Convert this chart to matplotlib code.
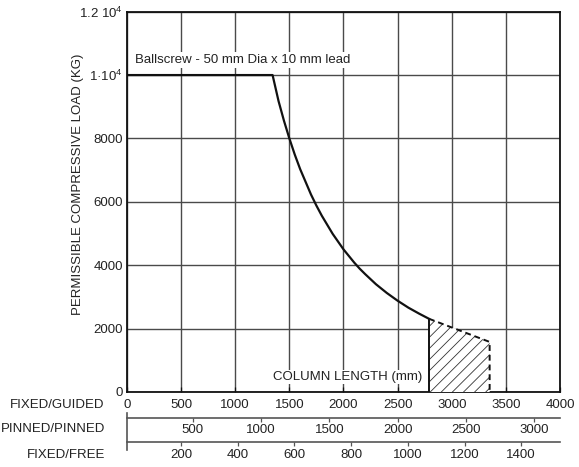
import matplotlib
matplotlib.use("Agg")
import matplotlib.pyplot as plt

plt.rcParams['font.family'] = ['Liberation Sans', 'DejaVu Sans']
plt.rcParams['mathtext.fontset'] = 'custom'
plt.rcParams['mathtext.rm'] = 'Liberation Sans'
plt.rcParams['mathtext.it'] = 'Liberation Sans'
plt.rcParams['font.size'] = 9.5
plt.rcParams['hatch.linewidth'] = 0.6

# Data (x in FIXED/GUIDED column length, mm)
length_mm = [0, 1345, 1400, 1450, 1500, 1550, 1600, 1700, 1750, 1800, 1900, 2000,
             2100, 2150, 2200, 2300, 2400, 2500, 2600, 2700, 2790]
load_kg = [10000, 10000, 9180, 8560, 8000, 7490, 7030, 6230, 5880, 5560, 4990, 4500,
           4080, 3890, 3720, 3400, 3125, 2880, 2660, 2470, 2310]

hatch_x = [2790, 2790, 3350, 3350]
hatch_y = [0, 2310, 1580, 0]

y_ticks = [0, 2000, 4000, 6000, 8000, 10000, 12000]
y_labels = ['0', '2000', '4000', '6000', '8000', r'1·10$^4$', r'1.2 10$^4$']
guided_ticks = [0, 500, 1000, 1500, 2000, 2500, 3000, 3500, 4000]
pinned_ticks = [500, 1000, 1500, 2000, 2500, 3000]
free_ticks = [200, 400, 600, 800, 1000, 1200, 1400]

# conversion of the lower scales to the FIXED/GUIDED scale
PIN_A, PIN_B = 1.2624, -24.0
FREE_A, FREE_B = 2.619, -25.0

fig = plt.figure(figsize=(5.79, 4.67), dpi=100)
ax = fig.add_axes([0.2193, 0.1606, 0.7479, 0.8144])

ax.set_xlim(0, 4000)
ax.set_ylim(0, 12000)
ax.set_xticks(guided_ticks)
ax.set_yticks(y_ticks)
ax.set_yticklabels(y_labels)
ax.grid(True, color='#4a4a4a', lw=1.0)
ax.set_axisbelow(True)
for s in ax.spines.values():
    s.set_color('#111111')
    s.set_linewidth(1.3)
ax.tick_params(axis='x', direction='in', length=3.5, width=0.9, pad=5,
               colors='#111111', labelcolor='#222222')
ax.tick_params(axis='y', length=0, pad=3, labelcolor='#222222')

ax.plot(length_mm, load_kg, color='#111111', lw=1.6, zorder=4)
ax.plot([hatch_x[0], hatch_x[1]], [hatch_y[0], hatch_y[1]], color='#111111', lw=1.4, zorder=4)
ax.fill(hatch_x, hatch_y, facecolor='white', edgecolor='#333333', hatch='///', lw=0, zorder=3)
ax.plot(hatch_x[1:], hatch_y[1:], color='#111111', lw=1.4, ls=(0, (3, 2)), zorder=4)

ax.text(74, 10470, 'Ballscrew - 50 mm Dia x 10 mm lead', va='center', ha='left',
        color='#222222', bbox=dict(facecolor='white', edgecolor='none', pad=1.5), zorder=3)
ax.text(2042, 473, 'COLUMN LENGTH (mm)', va='center', ha='center', color='#222222',
        bbox=dict(facecolor='white', edgecolor='none', pad=1.0), zorder=3)

ax.set_ylabel('PERMISSIBLE COMPRESSIVE LOAD (KG)', color='#222222')
ax.yaxis.set_label_coords(-0.099, 0.545)

sec1 = ax.secondary_xaxis(-0.0684, functions=(lambda g: (g - PIN_B) / PIN_A,
                                              lambda v: PIN_A * v + PIN_B))
sec1.set_xticks(pinned_ticks)
sec1.set_xticklabels([str(v) for v in pinned_ticks])
sec1.tick_params(length=3, width=0.9, pad=1.5, colors='#555555', labelcolor='#222222')
sec1.spines['bottom'].set_color('#555555')
sec1.spines['bottom'].set_linewidth(1.2)

sec2 = ax.secondary_xaxis(-0.1308, functions=(lambda g: (g - FREE_B) / FREE_A,
                                              lambda v: FREE_A * v + FREE_B))
sec2.set_xticks(free_ticks)
sec2.set_xticklabels([str(v) for v in free_ticks])
sec2.tick_params(length=3, width=0.9, pad=2.5, colors='#555555', labelcolor='#222222')
sec2.spines['bottom'].set_color('#555555')
sec2.spines['bottom'].set_linewidth(1.2)

ax.plot([0, 0], [-0.0553, -0.1526], transform=ax.transAxes, color='#555555',
        lw=1.2, clip_on=False)

fig.text(0.1796, 0.1328, 'FIXED/GUIDED', ha='right', va='center', color='#222222')
fig.text(0.1814, 0.0814, 'PINNED/PINNED', ha='right', va='center', color='#222222')
fig.text(0.1814, 0.0257, 'FIXED/FREE', ha='right', va='center', color='#222222')

fig.savefig('out.png', dpi=100)
